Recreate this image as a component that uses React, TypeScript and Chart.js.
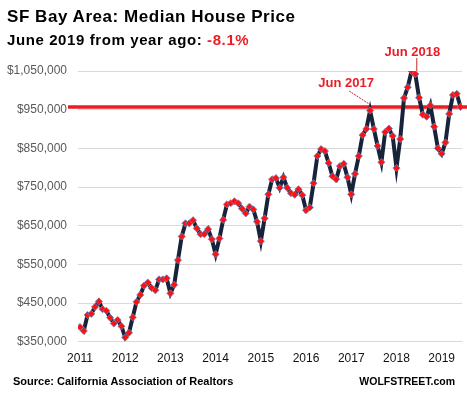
import React, { useEffect, useRef } from "react";
import { Chart, registerables } from "chart.js";

Chart.register(...registerables);

const yearLabels = ["2011", "2012", "2013", "2014", "2015", "2016", "2017", "2018", "2019"];
const prices2011 = [388000, 378000, 419000, 422000, 440000, 454000, 434000, 430000, 412000, 397000, 406000, 390000];
const prices2012 = [361000, 373000, 413000, 453000, 471000, 495000, 503000, 489000, 483000, 511000, 511000, 514000];
const prices2013 = [475000, 497000, 561000, 622000, 656000, 656000, 664000, 643000, 628000, 628000, 641000, 615000];
const prices2014 = [576000, 617000, 665000, 705000, 708000, 713000, 708000, 694000, 682000, 699000, 692000, 660000];
const prices2015 = [610000, 669000, 731000, 770000, 773000, 748000, 775000, 748000, 734000, 730000, 744000, 729000];
const prices2016 = [690000, 697000, 760000, 830000, 848000, 843000, 812000, 778000, 770000, 804000, 810000, 775000];
const prices2017 = [731000, 784000, 830000, 884000, 900000, 948000, 900000, 856000, 814000, 892000, 901000, 882000];
const prices2018 = [799000, 874000, 980000, 1008000, 1050000, 1042000, 981000, 937000, 932000, 961000, 906000, 850000];
const prices2019 = [836000, 865000, 939000, 988000, 991000, 957000];
const yTickValues = [350000, 450000, 550000, 650000, 750000, 850000, 950000, 1050000];
const callouts = [
  { text: "Jun 2017", monthIndex: 77 },
  { text: "Jun 2018", monthIndex: 89 },
];

const RED = "#ec1c24";
const FONT = "'Liberation Sans', Arial, sans-serif";

export default function App() {
  const canvasRef = useRef<HTMLCanvasElement | null>(null);

  useEffect(() => {
    const canvas = canvasRef.current;
    if (!canvas) return;
    const all = [
      ...prices2011, ...prices2012, ...prices2013, ...prices2014, ...prices2015,
      ...prices2016, ...prices2017, ...prices2018, ...prices2019,
    ];
    const points = all.map((v, i) => ({ x: i, y: v }));
    const latest = all[all.length - 1];

    const overlay = {
      id: "overlay",
      beforeDatasetsDraw(chart: any) {
        const { ctx, chartArea } = chart;
        const y = chart.scales.y.getPixelForValue(latest);
        ctx.save();
        ctx.strokeStyle = RED;
        ctx.lineWidth = 3.5;
        ctx.beginPath();
        ctx.moveTo(chartArea.left - 10, y);
        ctx.lineTo(chart.width, y);
        ctx.stroke();
        ctx.restore();
      },
      afterDatasetsDraw(chart: any) {
        const { ctx } = chart;
        const xs = chart.scales.x;
        const ys = chart.scales.y;
        ctx.save();
        ctx.font = `bold 13px ${FONT}`;
        ctx.textAlign = "center";
        ctx.textBaseline = "alphabetic";
        {
          const c = callouts[0];
          const px = xs.getPixelForValue(c.monthIndex);
          const py = ys.getPixelForValue(all[c.monthIndex]);
          ctx.strokeStyle = "#c8262c";
          ctx.lineWidth = 1;
          ctx.setLineDash([2, 1]);
          ctx.beginPath();
          ctx.moveTo(px - 21, py - 19.5);
          ctx.lineTo(px - 1, py - 6.5);
          ctx.stroke();
          ctx.setLineDash([]);
          ctx.fillStyle = RED;
          ctx.fillText(c.text, px - 24, py - 23.5);
        }
        {
          const c = callouts[1];
          const px = xs.getPixelForValue(c.monthIndex);
          const py = ys.getPixelForValue(all[c.monthIndex]);
          ctx.strokeStyle = "#c8262c";
          ctx.lineWidth = 1;
          ctx.beginPath();
          ctx.moveTo(px + 1.5, py - 16);
          ctx.lineTo(px + 1.5, py - 3);
          ctx.stroke();
          ctx.fillStyle = RED;
          ctx.fillText(c.text, px - 3, py - 18);
        }
        ctx.restore();
      },
    };

    const chart = new Chart(canvas, {
      type: "line",
      data: {
        datasets: [
          {
            data: points,
            borderColor: "#17233a",
            borderWidth: 4,
            pointStyle: "rectRot",
            pointRadius: 3.6,
            pointBackgroundColor: "#ff1010",
            pointBorderColor: "#7085bb",
            pointBorderWidth: 0.8,
            tension: 0,
            fill: false,
          },
        ],
      },
      options: {
        responsive: false,
        animation: false,
        layout: { padding: { top: 71, right: 4, bottom: 0, left: 0 } },
        plugins: {
          legend: { display: false },
          tooltip: { enabled: false },
          title: { display: false },
        },
        scales: {
          x: {
            type: "linear",
            min: -0.53,
            max: 101.45,
            afterFit: (scale: any) => {
              scale.height = 55.3;
            },
            afterBuildTicks: (scale: any) => {
              scale.ticks = yearLabels.map((_, k) => ({ value: k * 12 }));
            },
            grid: { display: false, drawTicks: false },
            border: { display: false },
            ticks: {
              autoSkip: false,
              maxRotation: 0,
              padding: 10,
              color: "#111111",
              font: { family: FONT, size: 12 },
              callback: (v: any) => yearLabels[Math.round(Number(v) / 12)] ?? "",
            },
          },
          y: {
            type: "linear",
            min: 350000,
            max: 1050000,
            afterFit: (scale: any) => {
              scale.width = 78;
            },
            afterBuildTicks: (scale: any) => {
              scale.ticks = yTickValues.map((v) => ({ value: v }));
            },
            grid: { color: "#d9d9d9", lineWidth: 1, drawTicks: false },
            border: { display: false },
            ticks: {
              padding: 11,
              color: "#595959",
              font: { family: FONT, size: 12 },
              callback: (v: any) => "$" + Number(v).toLocaleString("en-US"),
            },
          },
        },
      },
      plugins: [overlay],
    } as any);

    return () => chart.destroy();
  }, []);

  return (
    <div
      style={{
        position: "fixed",
        left: 0,
        top: 0,
        width: 467,
        height: 397,
        background: "#ffffff",
        overflow: "hidden",
        fontFamily: FONT,
      }}
    >
      <canvas
        ref={canvasRef}
        width={467}
        height={397}
        style={{ position: "absolute", left: 0, top: 0, width: 467, height: 397 }}
      />
      <div
        style={{
          position: "absolute",
          left: 7,
          top: 7.5,
          fontSize: 17,
          lineHeight: "17px",
          fontWeight: "bold",
          letterSpacing: 0.55,
          color: "#000",
          whiteSpace: "nowrap",
        }}
      >
        SF Bay Area: Median House Price
      </div>
      <div
        style={{
          position: "absolute",
          left: 7,
          top: 32,
          fontSize: 15,
          lineHeight: "15px",
          fontWeight: "bold",
          letterSpacing: 0.6,
          color: "#000",
          whiteSpace: "nowrap",
        }}
      >
        June 2019 from year ago: <span style={{ color: RED }}>-8.1%</span>
      </div>
      <div
        style={{
          position: "absolute",
          left: 13,
          top: 375.5,
          fontSize: 11,
          lineHeight: "11px",
          fontWeight: "bold",
          color: "#000",
          whiteSpace: "nowrap",
        }}
      >
        Source: California Association of Realtors
      </div>
      <div
        style={{
          position: "absolute",
          right: 12,
          top: 375.5,
          fontSize: 10.5,
          lineHeight: "11px",
          fontWeight: "bold",
          color: "#000",
          whiteSpace: "nowrap",
        }}
      >
        WOLFSTREET.com
      </div>
    </div>
  );
}
